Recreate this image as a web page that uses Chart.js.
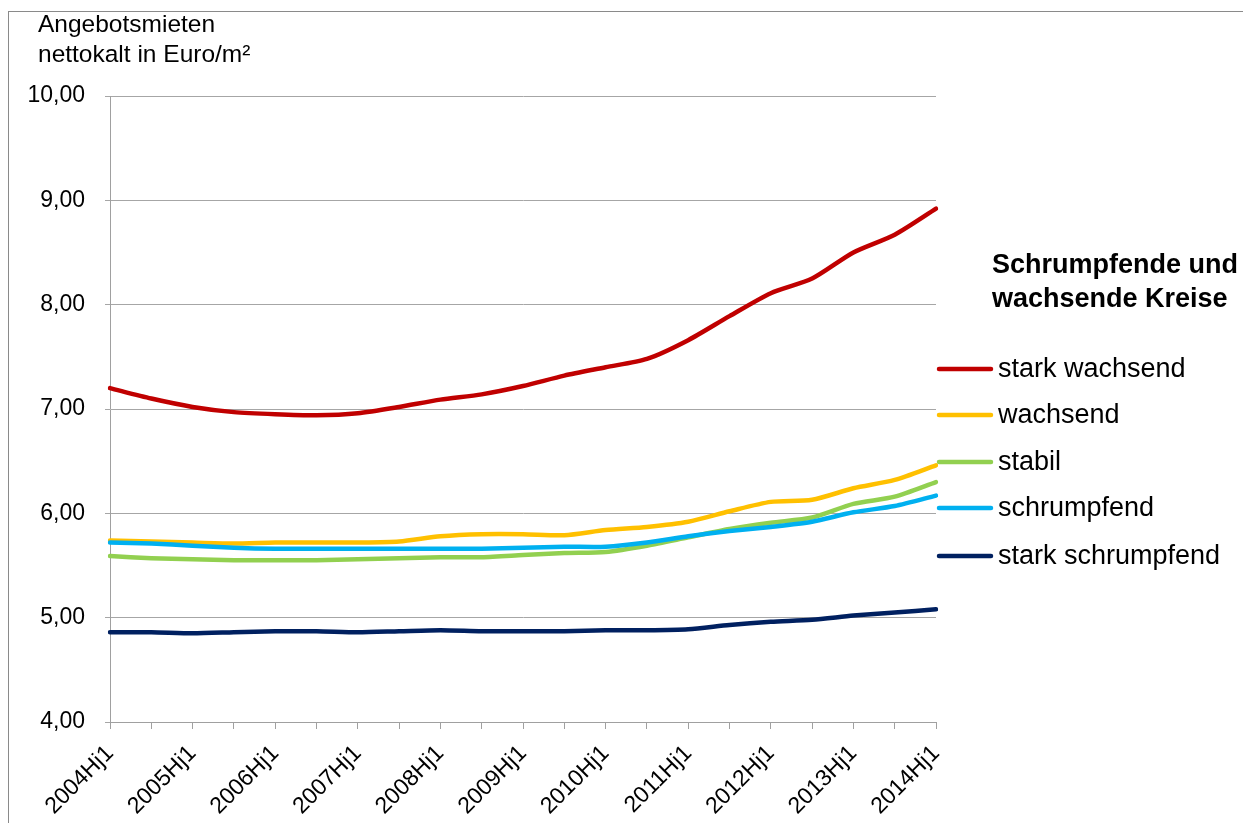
<!DOCTYPE html>
<html>
<head>
<meta charset="utf-8">
<script src="https://cdn.jsdelivr.net/npm/chart.js@4/dist/chart.umd.min.js"></script>
<style>
  html, body { margin: 0; padding: 0; background: #fff; overflow: hidden; }
  #wrap { position: relative; width: 1243px; height: 823px; }
  #frame { position: absolute; left: 8px; top: 11px; width: 1300px; height: 900px; border: 1px solid #8a8a8a; box-sizing: border-box; pointer-events: none; }
  canvas { position: absolute; left: 0; top: 0; }
</style>
</head>
<body>
<div id="wrap">
  <div id="frame"></div>
  <canvas id="c" width="1243" height="823"></canvas>
</div>
<script>
const categories = [
  "2004Hj1","2004Hj2","2005Hj1","2005Hj2","2006Hj1","2006Hj2","2007Hj1","2007Hj2",
  "2008Hj1","2008Hj2","2009Hj1","2009Hj2","2010Hj1","2010Hj2","2011Hj1","2011Hj2",
  "2012Hj1","2012Hj2","2013Hj1","2013Hj2","2014Hj1"
];
const starkWachsend = [7.20,7.10,7.02,6.97,6.95,6.94,6.96,7.02,7.09,7.14,7.22,7.32,7.40,7.48,7.66,7.89,8.11,8.25,8.50,8.67,8.92];
const wachsend      = [5.74,5.73,5.72,5.71,5.72,5.72,5.72,5.73,5.78,5.80,5.80,5.79,5.84,5.87,5.92,6.02,6.11,6.13,6.24,6.32,6.46];
const stabil        = [5.59,5.57,5.56,5.55,5.55,5.55,5.56,5.57,5.58,5.58,5.60,5.62,5.63,5.69,5.77,5.85,5.91,5.96,6.09,6.16,6.30];
const schrumpfend   = [5.72,5.71,5.69,5.67,5.66,5.66,5.66,5.66,5.66,5.66,5.67,5.68,5.68,5.72,5.78,5.83,5.87,5.92,6.01,6.07,6.17];
const starkSchrumpfend = [4.86,4.86,4.85,4.86,4.87,4.87,4.86,4.87,4.88,4.87,4.87,4.87,4.88,4.88,4.89,4.93,4.96,4.98,5.02,5.05,5.08];

const seriesNames = ["stark wachsend","wachsend","stabil","schrumpfend","stark schrumpfend"];
const seriesColors = ["#C00000","#FFC000","#92D050","#00B0F0","#002060"];
const seriesValues = [starkWachsend, wachsend, stabil, schrumpfend, starkSchrumpfend];
const yAxisTitle = ["Angebotsmieten","nettokalt in Euro/m²"];
const legendTitle = ["Schrumpfende und","wachsende Kreise"];

const FONT = '"Liberation Sans", Arial, sans-serif';

const datasets = seriesNames.map((name, i) => ({
  label: name,
  data: seriesValues[i],
  borderColor: seriesColors[i],
  backgroundColor: seriesColors[i],
  borderWidth: 4.5,
  pointRadius: 0,
  pointHoverRadius: 0,
  tension: 0.25,
  borderCapStyle: 'round',
  borderJoinStyle: 'round',
  fill: false,
  order: seriesNames.length - 1 - i
}));

const decor = {
  id: 'decor',
  afterDraw(chart) {
    const ctx = chart.ctx;
    ctx.save();
    ctx.fillStyle = '#000';
    ctx.textAlign = 'left';
    ctx.textBaseline = 'alphabetic';
    ctx.font = '24.5px ' + FONT;
    ctx.fillText(yAxisTitle[0], 38, 32);
    ctx.fillText(yAxisTitle[1], 38, 62);

    ctx.font = 'bold 27px ' + FONT;
    ctx.fillText(legendTitle[0], 992, 273);
    ctx.fillText(legendTitle[1], 992, 307);

    const ys = [369, 415, 462, 508, 556];
    chart.data.datasets.forEach((ds, i) => {
      const y = ys[i];
      ctx.strokeStyle = ds.borderColor;
      ctx.lineWidth = 4.5;
      ctx.lineCap = 'round';
      ctx.beginPath();
      ctx.moveTo(939, y);
      ctx.lineTo(991, y);
      ctx.stroke();
      ctx.fillStyle = '#000';
      ctx.font = '27px ' + FONT;
      ctx.textBaseline = 'middle';
      ctx.fillText(ds.label, 998, y + 1);
    });
    ctx.restore();
  }
};

new Chart(document.getElementById('c'), {
  type: 'line',
  data: { labels: categories, datasets },
  options: {
    responsive: false,
    animation: false,
    devicePixelRatio: 1,
    layout: { padding: { left: 0, top: 96, right: 307, bottom: 0 } },
    plugins: { legend: { display: false }, tooltip: { enabled: false } },
    scales: {
      x: {
        offset: false,
        grid: { display: true, drawOnChartArea: false, drawTicks: true, tickLength: 7, color: '#a0a0a0' },
        border: { display: true, color: '#a0a0a0', width: 1 },
        ticks: {
          autoSkip: false,
          minRotation: 45,
          maxRotation: 45,
          padding: 11,
          color: '#000',
          font: { family: FONT, size: 23 },
          callback: function(v, idx) { return idx % 2 === 0 ? this.getLabelForValue(v) : ''; }
        },
        afterFit(scale) { scale.height = 101; }
      },
      y: {
        min: 4, max: 10,
        grid: { color: '#a6a6a6', lineWidth: 1, tickLength: 5, drawTicks: true },
        border: { display: true, color: '#a0a0a0', width: 1 },
        ticks: {
          stepSize: 1,
          padding: 20,
          color: '#000',
          font: { family: FONT, size: 23 },
          callback: (v) => Number(v).toFixed(2).replace('.', ',')
        },
        afterFit(scale) { scale.width = 110; }
      }
    }
  },
  plugins: [decor]
});
</script>
</body>
</html>
